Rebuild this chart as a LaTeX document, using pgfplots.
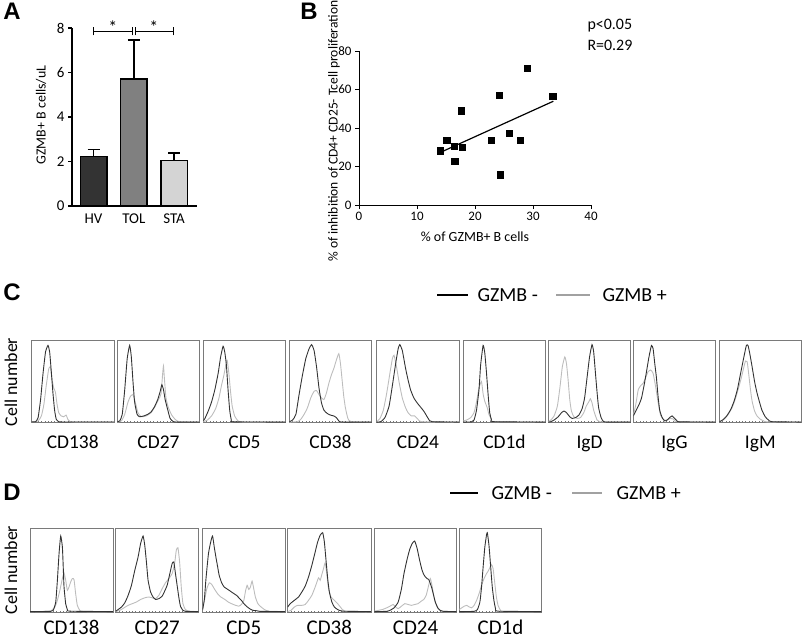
\documentclass[border=0pt]{standalone}
\usepackage{pgfplots}
\pgfplotsset{compat=1.18}
\usepackage{fontspec}
\setmainfont{Carlito}
\newfontfamily\arialfont{Liberation Sans}
\newcommand{\fs}[1]{\fontsize{#1}{#1}\selectfont}
\definecolor{negc}{HTML}{333333}
\definecolor{posc}{HTML}{BDBDBD}
\definecolor{boxc}{HTML}{7A7A7A}
\definecolor{hvc}{HTML}{333333}
\definecolor{tolc}{HTML}{808080}
\definecolor{stac}{HTML}{D4D4D4}
\pgfplotsset{
  histo/.style 2 args={scale only axis, anchor=north west, width=#1, height=#2,
    xmin=0, xmax=100, ymin=0, ymax=100,
    axis line style={draw=boxc, line width=0.8bp},
    ytick=\empty, xtick={4,8,...,96}, xticklabels={}, xtick pos=left,
    tick align=inside, major tick length=1.5bp,
    tick style={draw=black!55, line width=0.3bp}},
  neg/.style={draw=negc, line width=0.9bp, smooth, tension=0.3, mark=none},
  pos/.style={draw=posc, line width=0.9bp, smooth, tension=0.3, mark=none},
  ebar/.style={error bars/.cd, y dir=plus, y explicit, error mark=-,
    error bar style={line width=1.5bp, black},
    error mark options={rotate=90, line width=1.5bp, mark size=6bp, black}},
}
\begin{document}
\begin{tikzpicture}
\useasboundingbox (0,0) rectangle (802bp,-640bp);

% ---------------- Panel A ----------------
\begin{axis}[at={(72bp,-206bp)}, anchor=south west, scale only axis,
  width=125bp, height=178bp, xmin=0.466, xmax=3.57, ymin=0, ymax=8,
  axis lines*=left, axis line style={line width=1.5bp, black, -},
  ytick={0,2,4,6,8}, xtick={1,2,3}, xticklabels={HV,TOL,STA},
  x tick style={draw=none}, y tick style={line width=1.5bp, black},
  tick align=outside, major tick length=4bp,
  /pgf/number format/assume math mode=true,
  yticklabel style={font=\fs{15}}, xticklabel style={font=\fs{15}},
  ybar, bar width=26.5bp, bar shift=0pt, clip=false]
\addplot[fill=hvc, draw=black, line width=1.5bp, ebar]
  coordinates {(1,2.22) +- (0,0.33)};
\addplot[fill=tolc, draw=black, line width=1.5bp, ebar]
  coordinates {(2,5.70) +- (0,1.77)};
\addplot[fill=stac, draw=black, line width=1.5bp, ebar]
  coordinates {(3,2.05) +- (0,0.33)};
\draw[line width=1.3bp] (axis cs:1,7.85) -- (axis cs:1.97,7.85);
\draw[line width=1.3bp] (axis cs:1,7.67) -- (axis cs:1,8.03);
\draw[line width=1.3bp] (axis cs:1.97,7.67) -- (axis cs:1.97,8.03);
\draw[line width=1.3bp] (axis cs:2.05,7.85) -- (axis cs:2.98,7.85);
\draw[line width=1.3bp] (axis cs:2.05,7.67) -- (axis cs:2.05,8.03);
\draw[line width=1.3bp] (axis cs:2.98,7.67) -- (axis cs:2.98,8.03);
\node[font=\fs{18}] at (axis cs:1.48,8.02) {*};
\node[font=\fs{18}] at (axis cs:2.5,8.02) {*};
\end{axis}

% ---------------- Panel B ----------------
\begin{axis}[at={(359bp,-205bp)}, anchor=south west, scale only axis,
  width=232bp, height=154bp, xmin=0, xmax=40, ymin=0, ymax=80,
  axis lines*=left, axis line style={line width=1bp, black, -},
  xtick={0,10,...,40}, ytick={0,20,...,80},
  tick style={line width=1bp, black}, tick align=outside, major tick length=4bp,
  /pgf/number format/assume math mode=true,
  ticklabel style={font=\fs{13}}, clip=false]
\addplot[only marks, mark=square*, mark size=3.2bp, black] coordinates {
(14.0,28.2) (15.1,33.8) (16.4,30.6) (16.5,22.7) (17.6,49.0) (17.8,30.0)
(22.8,33.8) (24.2,57.0) (24.3,15.7) (25.9,37.2) (27.8,33.8) (29.0,71.0) (33.4,56.5)};
\addplot[black, line width=1.2bp, mark=none] coordinates {(14.3,27.7) (33.5,53.9)};
\end{axis}

% ---------------- Panel C histograms ----------------
\begin{axis}[histo={82.5bp}{82bp}, at={(31.5bp,-340.5bp)}]
\addplot[pos] coordinates {(0,0.5) (8,2) (12,8) (15,22) (18,46) (21,66) (23,67) (25,52) (27,42) (29,37) (31,22) (33,12) (36,8) (39,7) (42,9) (44,4) (47,1) (55,0.5) (100,0.5)};
\addplot[neg] coordinates {(0,0.8) (5,1) (8,6) (11,28) (14,60) (17,86) (20,94) (22,86) (24,62) (26,36) (28,15) (30,4) (33,1) (40,0.6) (100,0.6)};
\end{axis}
\begin{axis}[histo={82.5bp}{82bp}, at={(117.3bp,-340.5bp)}]
\addplot[pos] coordinates {(0,0.5) (5,2) (9,10) (13,25) (16,32) (19,34) (22,24) (25,12) (29,7) (35,8) (41,12) (46,20) (50,28) (53,35) (55,60) (56,69) (57,55) (59,30) (62,18) (66,9) (70,4) (75,1) (100,0.5)};
\addplot[neg] coordinates {(0,1) (3,2) (6,10) (9,40) (12,78) (15,94) (17,80) (19,50) (21,25) (24,10) (27,7) (32,8) (37,10) (41,13) (45,19) (49,28) (52,38) (54,46) (56,40) (58,28) (61,16) (64,5) (68,1) (75,0.5) (100,0.5)};
\end{axis}
\begin{axis}[histo={82.5bp}{82bp}, at={(203.3bp,-340.5bp)}]
\addplot[pos] coordinates {(0,1) (5,3) (10,8) (15,17) (19,30) (22,45) (25,58) (28,74) (29,76) (31,60) (33,38) (35,20) (38,8) (42,2) (48,0.5) (100,0.5)};
\addplot[neg] coordinates {(0,2) (2,5) (6,14) (10,25) (14,40) (18,60) (21,80) (24,93) (26,86) (28,70) (30,40) (32,15) (34,3) (37,0.8) (100,0.5)};
\end{axis}
\begin{axis}[histo={82.5bp}{82bp}, at={(289.3bp,-340.5bp)}]
\addplot[pos] coordinates {(0,0.5) (10,1) (14,4) (18,10) (22,18) (26,30) (30,38) (33,39) (36,34) (39,30) (42,28) (45,36) (48,48) (51,58) (54,66) (57,76) (60,84) (62,72) (64,52) (66,32) (68,18) (71,5) (75,1) (100,0.5)};
\addplot[neg] coordinates {(0,1) (4,3) (8,10) (12,35) (16,58) (20,78) (24,90) (27,95) (30,88) (33,68) (36,42) (39,24) (42,15) (46,11) (50,9) (54,8) (57,6) (60,2) (63,0.6) (100,0.5)};
\end{axis}
\begin{axis}[histo={82.5bp}{82bp}, at={(376.7bp,-340.5bp)}]
\addplot[pos] coordinates {(0,1) (4,5) (8,15) (12,35) (16,60) (19,78) (21,82) (24,68) (27,50) (31,30) (35,18) (38,12) (42,8) (46,8) (50,4) (55,1) (100,0.5)};
\addplot[neg] coordinates {(0,0.5) (5,1) (10,6) (15,20) (19,45) (23,72) (26,90) (28,95) (31,88) (35,66) (38,52) (41,40) (45,30) (49,24) (53,19) (57,14) (60,9) (63,4) (67,1) (100,0.5)};
\end{axis}
\begin{axis}[histo={82.5bp}{82bp}, at={(463.3bp,-340.5bp)}]
\addplot[pos] coordinates {(0,2) (4,3) (9,6) (13,12) (16,25) (19,42) (22,50) (24,35) (26,26) (29,18) (31,10) (34,4) (37,1) (100,0.5)};
\addplot[neg] coordinates {(0,0.5) (10,0.8) (13,3) (16,15) (19,40) (21,70) (24,94) (26,85) (28,62) (30,35) (32,12) (34,4) (37,1) (100,0.5)};
\end{axis}
\begin{axis}[histo={82.5bp}{82bp}, at={(548.3bp,-340.5bp)}]
\addplot[pos] coordinates {(0,1) (3,3) (7,8) (11,20) (14,42) (17,68) (20,80) (22,72) (24,52) (26,28) (28,14) (31,7) (35,5) (39,6) (43,12) (46,20) (49,25) (51,29) (53,24) (55,15) (58,6) (62,1) (100,0.5)};
\addplot[neg] coordinates {(0,0.5) (3,1) (7,3) (12,7) (16,12) (19,14) (22,12) (26,7) (29,5) (33,6) (37,9) (41,17) (44,30) (47,55) (50,80) (53,95) (55,86) (57,62) (59,38) (61,18) (64,6) (67,1) (72,0.5) (100,0.5)};
\end{axis}
\begin{axis}[histo={82.5bp}{82bp}, at={(633.3bp,-340.5bp)}]
\addplot[pos] coordinates {(0,8) (3,22) (6,40) (9,45) (12,48) (15,55) (18,62) (21,64) (24,60) (27,44) (30,25) (33,9) (37,3) (41,3) (45,5) (49,4) (53,1) (100,0.5)};
\addplot[neg] coordinates {(0,8) (3,14) (7,22) (10,30) (13,45) (16,62) (19,80) (22,94) (24,90) (26,72) (28,55) (30,32) (32,15) (35,6) (38,2) (41,3) (44,6) (47,8) (50,5) (53,2) (56,0.8) (100,0.5)};
\end{axis}
\begin{axis}[histo={82bp}{82bp}, at={(719.3bp,-340.5bp)}]
\addplot[pos] coordinates {(0,1) (6,4) (11,10) (16,19) (20,30) (24,44) (27,55) (30,68) (32,75) (34,74) (36,58) (38,40) (40,26) (43,14) (46,8) (50,4) (54,2) (58,0.8) (100,0.5)};
\addplot[neg] coordinates {(0,1) (4,3) (9,8) (14,16) (18,26) (22,40) (26,60) (30,80) (33,94) (35,94) (37,85) (40,68) (43,50) (46,36) (49,25) (52,15) (56,7) (60,3) (64,1) (100,0.5)};
\end{axis}

% ---------------- Panel D histograms ----------------
\begin{axis}[histo={83bp}{83.5bp}, at={(30bp,-528.5bp)}]
\addplot[pos] coordinates {(0,0.5) (22,0.8) (26,2) (30,6) (33,14) (36,26) (39,40) (41,47) (43,38) (45,26) (47,30) (49,36) (51,40) (53,39) (55,22) (57,8) (60,2) (64,0.6) (100,0.5)};
\addplot[neg] coordinates {(0,0.5) (25,0.8) (28,2) (31,12) (33,38) (35,70) (37,91) (39,78) (40,55) (41,30) (43,10) (45,3) (48,1) (100,0.5)};
\end{axis}
\begin{axis}[histo={83bp}{83.5bp}, at={(115.7bp,-528.5bp)}]
\addplot[pos] coordinates {(0,0.5) (5,2) (10,5) (15,8) (20,10) (25,12) (30,15) (35,17) (40,18) (44,17) (48,16) (52,20) (56,28) (60,35) (64,40) (68,46) (71,58) (73,74) (75,77) (77,60) (79,30) (81,10) (84,3) (88,1) (100,0.5)};
\addplot[neg] coordinates {(0,1) (3,3) (7,6) (11,11) (15,20) (19,32) (23,50) (27,66) (30,82) (33,91) (35,80) (37,60) (39,38) (42,24) (45,18) (48,15) (52,16) (56,19) (59,25) (62,32) (65,45) (68,58) (70,60) (72,46) (74,32) (76,18) (78,7) (81,2) (85,0.8) (100,0.5)};
\end{axis}
\begin{axis}[histo={82.3bp}{83.5bp}, at={(202.7bp,-528.5bp)}]
\addplot[pos] coordinates {(0,5) (3,18) (5,28) (8,35) (11,33) (14,28) (18,22) (22,18) (27,15) (31,12) (35,10) (40,8) (44,7) (47,9) (50,14) (52,25) (54,32) (56,27) (58,30) (60,37) (62,28) (64,18) (67,10) (71,6) (75,3) (80,1) (100,0.5)};
\addplot[neg] coordinates {(0,3) (2,15) (4,40) (7,70) (10,85) (12,91) (14,78) (16,66) (18,55) (20,44) (23,35) (26,30) (29,28) (32,26) (35,24) (38,22) (41,20) (44,17) (47,14) (50,10) (53,7) (57,4) (61,2) (66,1.5) (70,0.8) (100,0.5)};
\end{axis}
\begin{axis}[histo={83.3bp}{83.5bp}, at={(287.7bp,-528.5bp)}]
\addplot[pos] coordinates {(0,0.5) (4,2) (8,6) (12,8) (17,8) (21,9) (25,14) (29,20) (33,30) (37,41) (39,38) (41,45) (43,52) (45,59) (47,45) (49,28) (52,18) (56,14) (60,10) (64,5) (69,1) (100,0.5)};
\addplot[neg] coordinates {(0,6) (3,10) (8,14) (13,18) (17,24) (21,31) (25,42) (29,56) (33,72) (36,84) (39,92) (42,95) (44,84) (46,62) (48,40) (50,24) (53,12) (56,6) (60,3) (66,1) (100,0.5)};
\end{axis}
\begin{axis}[histo={82.4bp}{83.5bp}, at={(374.3bp,-528.5bp)}]
\addplot[pos] coordinates {(0,1) (5,2) (10,3) (15,5) (19,7) (23,9) (26,6) (29,4) (33,7) (37,10) (41,9) (45,8) (49,9) (53,10) (57,13) (60,15) (63,20) (66,32) (68,40) (70,32) (72,20) (74,12) (77,5) (80,2) (85,0.5) (100,0.5)};
\addplot[neg] coordinates {(0,0.5) (15,0.8) (19,2) (24,5) (29,12) (33,28) (36,46) (40,64) (43,75) (46,82) (49,85) (52,76) (55,62) (58,50) (60,45) (62,42) (64,40) (66,39) (68,34) (70,28) (72,20) (74,12) (77,5) (80,2) (84,0.8) (100,0.5)};
\end{axis}
\begin{axis}[histo={82.4bp}{83.5bp}, at={(459.3bp,-528.5bp)}]
\addplot[pos] coordinates {(0,3) (3,5) (6,7) (9,8) (12,6) (15,5) (18,8) (21,14) (24,22) (27,32) (30,40) (33,46) (35,49) (37,53) (39,57) (41,52) (43,35) (45,18) (47,8) (50,2) (54,0.6) (100,0.5)};
\addplot[neg] coordinates {(0,0.5) (18,0.8) (22,3) (25,12) (27,30) (29,55) (31,78) (33,92) (34,95) (36,80) (38,55) (40,30) (42,14) (44,4) (47,1) (100,0.5)};
\end{axis}

% ---------------- Text ----------------
\begin{scope}[x=1bp, y=-1bp]
\node[font=\arialfont\bfseries\fs{24}] at (12,11) {A};
\node[font=\arialfont\bfseries\fs{24}] at (309,11) {B};
\node[font=\arialfont\bfseries\fs{24}] at (12,292) {C};
\node[font=\arialfont\bfseries\fs{24}] at (12,492) {D};
\node[rotate=90, font=\fs{14}] at (41,115) {GZMB+ B cells/uL};
\node[rotate=90, font=\fs{13.6}] at (334,131) {\% of inhibition of CD4+ CD25- Tcell proliferation};
\node[font=\fs{14}] at (475,237) {\% of GZMB+ B cells};
\node[anchor=west, font=\fs{16}] at (584,26) {p<0.05};
\node[anchor=west, font=\fs{16}] at (584,45) {R=0.29};
% legend C
\draw[black, line width=1.1bp] (437,295) -- (468,295);
\node[anchor=west, font=\fs{20}] at (474,295) {GZMB -};
\draw[posc!85!black, line width=1.1bp] (556,295) -- (590,295);
\node[anchor=west, font=\fs{20}] at (599,295) {GZMB +};
% legend D
\draw[black, line width=1.1bp] (450,493) -- (478,493);
\node[anchor=west, font=\fs{20}] at (488,493) {GZMB -};
\draw[posc!85!black, line width=1.1bp] (572,493) -- (602,493);
\node[anchor=west, font=\fs{20}] at (613,493) {GZMB +};
% cell number
\node[rotate=90, font=\fs{18}] at (11,382) {Cell number};
\node[rotate=90, font=\fs{18}] at (11,570) {Cell number};
% C labels
\foreach \xx/\tt in {72.7/CD138, 158.5/CD27, 244.5/CD5, 330.5/CD38, 418/CD24, 504.5/CD1d, 589.5/IgD, 674.5/IgG, 760.3/IgM}
  \node[font=\fs{19.5}, anchor=base] at (\xx,448) {\tt};
% D labels
\foreach \xx/\tt in {71.5/CD138, 157.2/CD27, 243.8/CD5, 329.3/CD38, 415.5/CD24, 500.5/CD1d}
  \node[font=\fs{21}, anchor=base] at (\xx,634) {\tt};
\end{scope}
\end{tikzpicture}
\end{document}
